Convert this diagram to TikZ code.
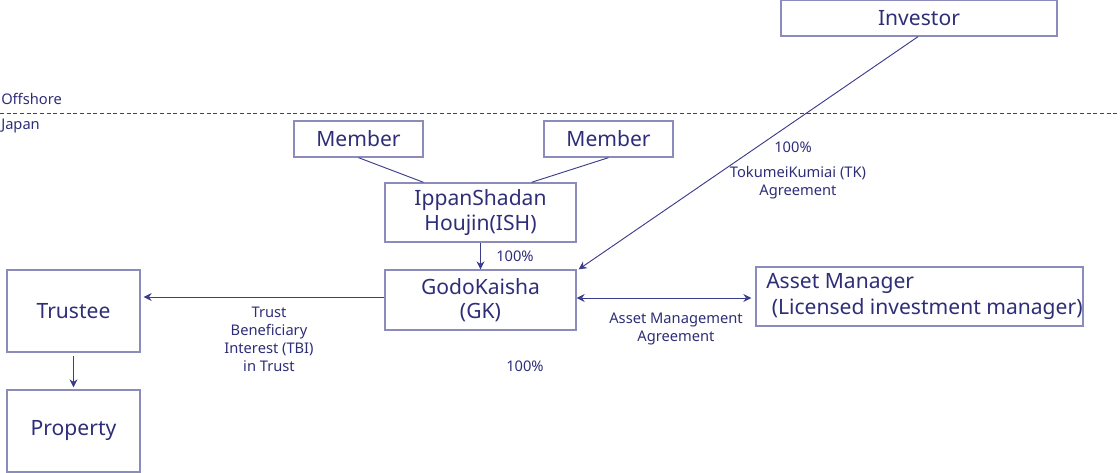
\documentclass[tikz,border=0pt]{standalone}
\usepackage{fontspec}
\setmainfont{Noto Sans}
\usetikzlibrary{arrows.meta}
\definecolor{ink}{HTML}{2E2E78}
\definecolor{boxc}{HTML}{8C8CBC}
\definecolor{linec}{HTML}{3C3C8C}
\begin{document}
\begin{tikzpicture}[x=0.75pt,y=-0.75pt,
  box/.style={draw=boxc,line width=1pt,text=ink,font=\fontsize{15.8}{18.5}\selectfont,inner sep=0pt,align=center},
  btext/.style={text=ink,font=\fontsize{15.8}{19.5}\selectfont,inner sep=0pt,align=left},
  lbl/.style={text=ink,font=\fontsize{11}{13.5}\selectfont,align=center,inner sep=0pt},
  conn/.style={draw=linec,line width=0.7pt},
  arr/.style={conn,-{Stealth[length=6pt,width=6pt]}},
  darr/.style={conn,{Stealth[length=6pt,width=6pt]}-{Stealth[length=6pt,width=6pt]}}]
\useasboundingbox (0,0) rectangle (1120,473);
% nodes
\node[box,minimum width=276*0.75pt,minimum height=36*0.75pt] (inv) at (919,18) {Investor};
\node[box,minimum width=129*0.75pt,minimum height=36*0.75pt] (m1) at (358.5,139) {Member};
\node[box,minimum width=129*0.75pt,minimum height=36*0.75pt] (m2) at (608.5,139) {Member};
\node[box,minimum width=191*0.75pt,minimum height=59*0.75pt] (ish) at (480.5,212.5) {IppanShadan\\Houjin(ISH)};
\node[box,minimum width=191*0.75pt,minimum height=60*0.75pt] (gk) at (480.5,300) {GodoKaisha\\(GK)};
\node[box,minimum width=133*0.75pt,minimum height=82*0.75pt] (tr) at (73.5,311) {Trustee};
\node[box,minimum width=133*0.75pt,minimum height=82*0.75pt] (pr) at (73.5,431) {Property};
\node[box,minimum width=327*0.75pt,minimum height=59*0.75pt] (am) at (919.5,296.5) {};
\node[btext,anchor=west] (amt) at (766,296.5) {Asset Manager\\\ (Licensed investment manager)};
% offshore line
\coordinate (dl) at (0,113);
\coordinate (dr) at (1120,113);
\draw[linec,line width=0.7pt,dash pattern=on 3pt off 2pt] (dl) -- (dr);
\node[lbl,anchor=west] (off) at (1,99) {Offshore};
\node[lbl,anchor=west] (jp) at (1,126) {Japan};
% connectors
\draw[conn] (m1.south) -- ([xshift=-57*0.75pt]ish.north);
\draw[conn] (m2.south) -- ([xshift=51*0.75pt]ish.north);
\draw[arr] (ish.south) -- (gk.north);
\draw[arr] ([xshift=-1*0.75pt]inv.south) -- ([xshift=2*0.75pt]gk.north east);
\draw[arr] ([yshift=3*0.75pt]gk.west) -- ([yshift=14*0.75pt,xshift=3*0.75pt]tr.east);
\draw[darr] ([yshift=2*0.75pt]gk.east) -- ([yshift=-1.5*0.75pt,xshift=-4*0.75pt]am.west);
\draw[arr] ([yshift=-3*0.75pt]tr.south) -- ([yshift=2*0.75pt]pr.north);
% labels
\node[lbl] (p1) at (515,256) {100\%};
\node[lbl] (p2) at (793,147) {100\%};
\node[lbl] (tk) at (798,182.5) {TokumeiKumiai (TK)\\Agreement};
\node[lbl] (tbi) at (269,339) {Trust\\Beneficiary\\Interest (TBI)\\in Trust};
\node[lbl] (ama) at (676,329) {Asset Management\\Agreement};
\node[lbl] (p3) at (525,366) {100\%};
\end{tikzpicture}
\end{document}
